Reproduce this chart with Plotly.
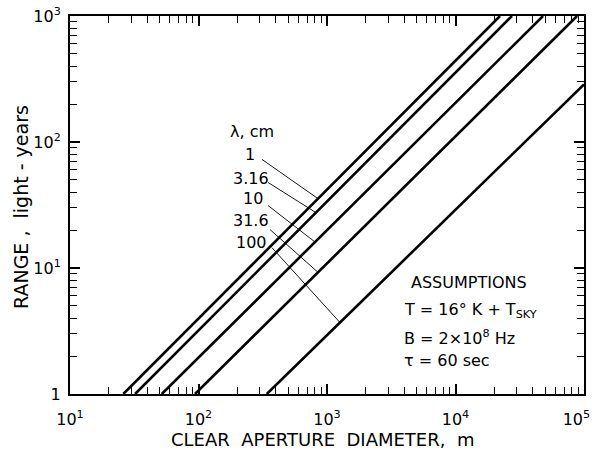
import numpy as np
import plotly.graph_objects as go

# ---- data ----
wavelengths = ["1", "3.16", "10", "31.6", "100"]          # lambda, cm
diam_at_1ly = [26.0, 32.1, 51.8, 94.0, 340.0]            # aperture (m) where range = 1 ly
diam_end = [22200.0, 27500.0, 48000.0, 88300.0, 100000.0]  # aperture (m) at line end
range_end = [1000.0, 1000.0, 1000.0, 1000.0, 287.0]      # range (ly) at line end

# leader lines: tail position (near label) and the aperture where each meets its line
leader_tail_x = [312.0, 348.0, 348.0, 360.0, 373.0]
leader_tail_y = [72.7, 47.7, 31.3, 20.2, 14.5]
leader_head_x = [851.0, 820.0, 807.0, 851.0, 1262.0]

x_major = [1e1, 1e2, 1e3, 1e4, 1e5]
x_major_text = ["10<sup>1</sup>", "10<sup>2</sup>", "10<sup>3</sup>", "10<sup>4</sup>",
                "10<sup>5</sup>\u00a0\u00a0\u00a0"]
y_major = [1, 1e1, 1e2, 1e3]
y_major_text = ["1", "10<sup>1</sup>", "10<sup>2</sup>", "10<sup>3</sup>"]

x_minor = [m * 10 ** e for e in range(1, 5) for m in range(2, 10)]
y_minor = [m * 10 ** e for e in range(0, 3) for m in range(2, 10)]

FONT = "DejaVu Sans"
fig = go.Figure()

for i in range(len(wavelengths)):
    fig.add_trace(go.Scatter(
        x=[diam_at_1ly[i], diam_end[i]], y=[1.0, range_end[i]],
        mode="lines", line=dict(color="black", width=2.6),
        showlegend=False, hoverinfo="skip"))

for i in range(len(wavelengths)):
    lx0, lx1 = np.log10(diam_at_1ly[i]), np.log10(diam_end[i])
    ly1 = np.log10(range_end[i])
    hx = np.log10(leader_head_x[i])
    hy = 10 ** ((hx - lx0) / (lx1 - lx0) * ly1)
    fig.add_trace(go.Scatter(
        x=[leader_tail_x[i], leader_head_x[i]], y=[leader_tail_y[i], hy],
        mode="lines", line=dict(color="black", width=0.9),
        showlegend=False, hoverinfo="skip"))

W, H = 594, 456
PL, PT, PR, PB = 70, 16, 584, 394   # plot area in window pixels
L, T = PL, PT
R, B = W - PR, H - PB
pw, ph = PR - PL, PB - PT


def px(xp):
    return (xp - PL) / pw


def py(yp):
    return (PB - yp) / ph


ann = []
ann.append(dict(text="λ, cm", x=px(252), y=py(131), xanchor="center", yanchor="middle"))
label_pos = [(250, 155), (251, 178), (253, 198), (251, 220), (251, 242)]
for lab, (xx, yy) in zip(wavelengths, label_pos):
    ann.append(dict(text=lab, x=px(xx), y=py(yy), xanchor="center", yanchor="middle"))

ann.append(dict(text="ASSUMPTIONS", x=px(409), y=py(282), xanchor="left", yanchor="middle"))
ann.append(dict(text="T = 16° K + T<sub>SKY</sub>", x=px(402), y=py(310), xanchor="left", yanchor="middle"))
ann.append(dict(text="B = 2×10<sup>8</sup> Hz", x=px(402), y=py(337), xanchor="left", yanchor="middle"))
ann.append(dict(text="τ = 60 sec", x=px(402), y=py(360), xanchor="left", yanchor="middle"))

ann.append(dict(text="CLEAR  APERTURE  DIAMETER,  m", x=px(322), y=py(439),
                xanchor="center", yanchor="middle", font=dict(size=18, family=FONT, color="black")))
ann.append(dict(text="RANGE ,  light - years", x=px(21), y=py(207), textangle=-90,
                xanchor="center", yanchor="middle", font=dict(size=19, family=FONT, color="black")))

for a in ann:
    a.update(xref="paper", yref="paper", showarrow=False)
    a.setdefault("font", dict(size=16, family=FONT, color="black"))

axis_common = dict(
    showgrid=False, zeroline=False, showline=True, linecolor="black", linewidth=2,
    mirror="ticks", ticks="inside", ticklen=10, tickwidth=1.5, tickcolor="black",
    tickfont=dict(size=16, family=FONT, color="black"), automargin=False,
    ticklabeloverflow="allow",
)

fig.update_layout(
    width=W, height=H, margin=dict(l=L, r=R, t=T, b=B, autoexpand=False),
    paper_bgcolor="white", plot_bgcolor="white",
    showlegend=False, annotations=ann,
    xaxis=dict(type="log", range=[1, 5], tickmode="array", tickvals=x_major,
               ticktext=x_major_text, ticklabelstandoff=10,
               minor=dict(tickmode="array", tickvals=x_minor, ticks="inside", ticklen=7,
                          tickwidth=1.2, tickcolor="black", showgrid=False),
               **axis_common),
    yaxis=dict(type="log", range=[0, 3], tickmode="array", tickvals=y_major,
               ticktext=y_major_text, ticklabelstandoff=4,
               minor=dict(tickmode="array", tickvals=y_minor, ticks="inside", ticklen=7,
                          tickwidth=1.2, tickcolor="black", showgrid=False),
               **axis_common),
)

fig.write_html(
    "out.html",
    config={"displayModeBar": False},
    post_script="document.body.style.margin='0';document.body.style.overflow='hidden';",
)
